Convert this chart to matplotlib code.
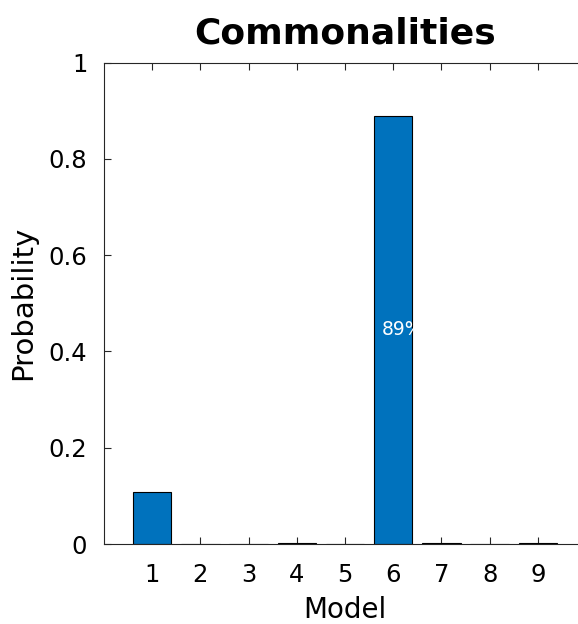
import matplotlib
matplotlib.use("Agg")
import matplotlib.pyplot as plt
import numpy as np

models = [1, 2, 3, 4, 5, 6, 7, 8, 9]
probs = [0.109, 0.0, 0.0, 0.002, 0.0, 0.889, 0.002, 0.0, 0.002]
yticks = [0, 0.2, 0.4, 0.6, 0.8, 1]
ytick_labels = ["0", "0.2", "0.4", "0.6", "0.8", "1"]
label_model = 6
label_text = "89%"

plt.rcParams['font.family'] = ['DejaVu Sans']
axcol = '0.15'

fig = plt.figure(figsize=(5.78, 6.24), dpi=100)
# axes runs a bit past the right edge of the figure, as in the reference
ax = fig.add_axes([104 / 578, 80 / 624, 482 / 578, 481.5 / 624])

bars = ax.bar(models, probs, width=0.8, color='#0072BD',
              edgecolor='black', linewidth=0.8, zorder=2)

ax.set_xlim(0, 10)
ax.set_ylim(0, 1)
ax.set_xticks(models)
ax.set_yticks(yticks)
ax.set_yticklabels(ytick_labels)

for s in ax.spines.values():
    s.set_color(axcol)
    s.set_linewidth(0.8)
ax.tick_params(direction='in', length=5, width=0.8, color=axcol,
               labelsize=17.5, top=True, right=True)
ax.tick_params(axis='x', pad=14)
ax.tick_params(axis='y', pad=12)

ax.set_xlabel("Model", fontsize=20, labelpad=6)
ax.set_ylabel("Probability", fontsize=21, labelpad=8)
ax.set_title("Commonalities", fontsize=26, fontweight='bold', pad=14)

# percentage label inside the winning bar, clipped to the bar
i = models.index(label_model)
t = ax.text(label_model - 0.24, probs[i] / 2, label_text, color='white',
            fontsize=13.5, ha='left', va='center', zorder=3)
t.set_clip_path(bars[i])

fig.savefig("out.png", dpi=100)
